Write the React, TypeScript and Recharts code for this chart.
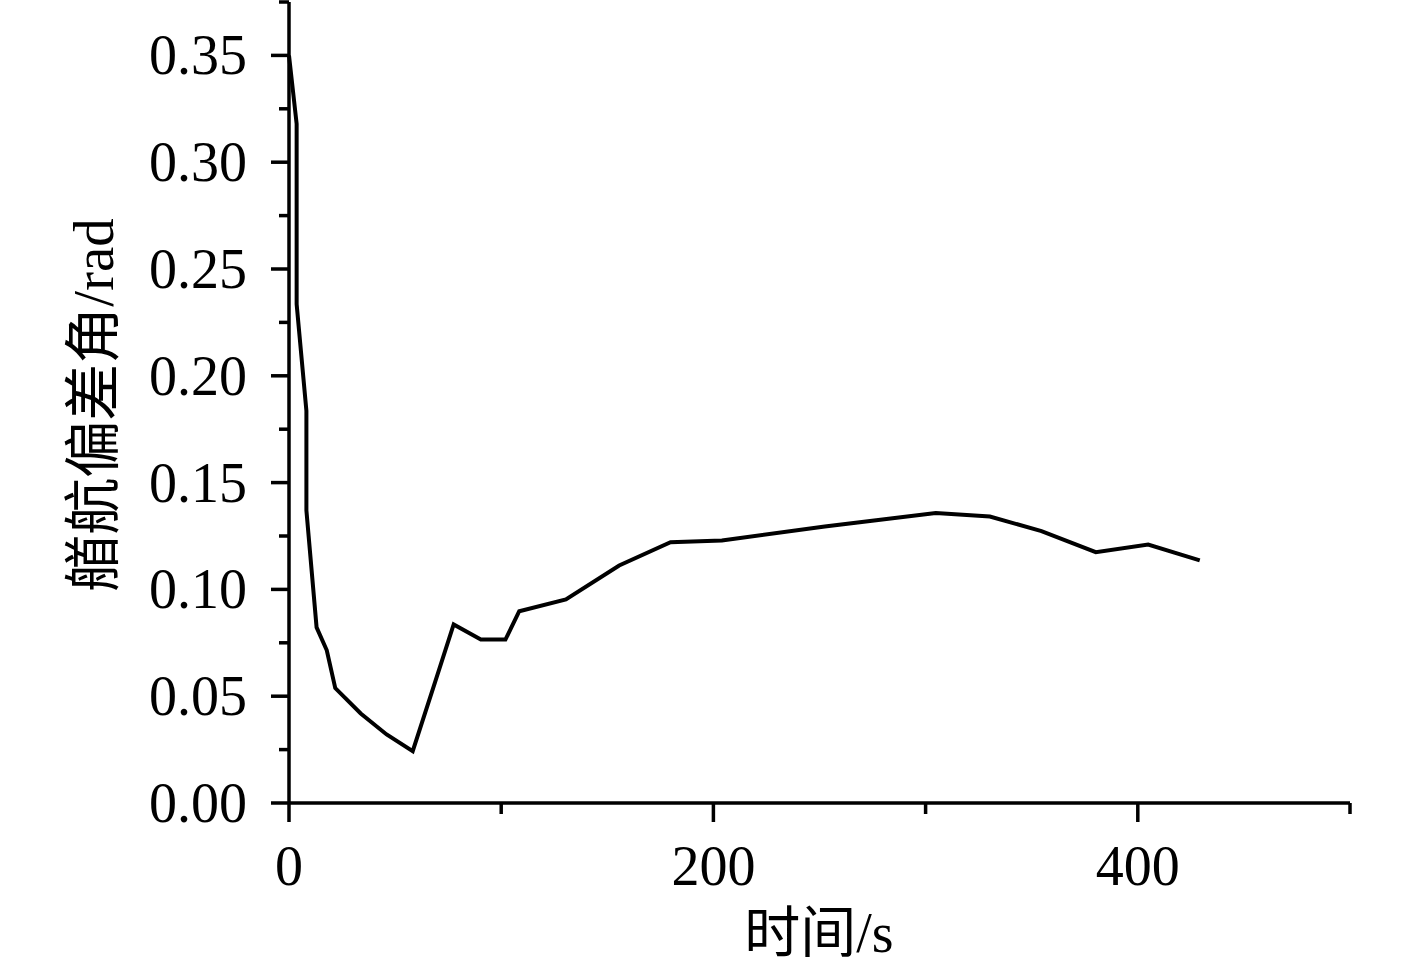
import React from 'react';
import { LineChart, Line, XAxis, YAxis } from 'recharts';

// time (s) and heading deviation angle (rad)
const timeS = [
  0, 3.6, 3.6, 8.2, 8.2, 13, 17.8, 21.8, 33.8, 46, 58.3, 68.8, 77.6, 90.4, 102,
  108.5, 130.5, 155.6, 179.8, 204, 252.5, 304.8, 330.3, 354.6, 380.2, 404.9, 429.2,
];
const angleRad = [
  0.35, 0.318, 0.2335, 0.1836, 0.137, 0.0822, 0.0715, 0.0538, 0.0419, 0.0321, 0.0243,
  0.0565, 0.0836, 0.0765, 0.0765, 0.0898, 0.0953, 0.1112, 0.1221, 0.1229, 0.1294,
  0.1358, 0.1341, 0.1273, 0.1174, 0.121, 0.1136,
];

const xTicks = [0, 100, 200, 300, 400, 500];
const xLabelled = [0, 200, 400];
const yTicks = [0, 0.025, 0.05, 0.075, 0.1, 0.125, 0.15, 0.175, 0.2, 0.225, 0.25, 0.275, 0.3, 0.325, 0.35, 0.375];
const yLabelled = [0, 0.05, 0.1, 0.15, 0.2, 0.25, 0.3, 0.35];

const data = timeS.map((t, i) => ({ t, v: angleRad[i] }));

const FONT = '"Liberation Serif", "Times New Roman", "Noto Sans CJK SC", serif';

const isMajor = (list: number[], v: number) => list.some((m) => Math.abs(m - v) < 1e-9);

const XTick = (props: any) => {
  const { x, y, payload } = props;
  const major = isMajor(xLabelled, payload.value);
  return (
    <g>
      <line x1={x} x2={x} y1={y} y2={y + (major ? 19 : 11)} stroke="#000" strokeWidth={3.5} />
      {major && (
        <text x={x} y={y + 82} textAnchor="middle" fontFamily={FONT} fontSize={56} fill="#000">
          {payload.value}
        </text>
      )}
    </g>
  );
};

const YTick = (props: any) => {
  const { x, y, payload } = props;
  const major = isMajor(yLabelled, payload.value);
  return (
    <g>
      <line x1={x - (major ? 18 : 10)} x2={x} y1={y} y2={y} stroke="#000" strokeWidth={3.5} />
      {major && (
        <text x={x - 42} y={y + 19} textAnchor="end" fontFamily={FONT} fontSize={56} fill="#000">
          {payload.value.toFixed(2)}
        </text>
      )}
    </g>
  );
};

const App = () => {
  return (
    <div style={{ position: 'absolute', left: 0, top: 0, background: '#fff' }}>
      <LineChart width={1417} height={972} data={data} margin={{ top: 2, right: 67, bottom: 0, left: 0 }}>
        <XAxis
          dataKey="t"
          type="number"
          domain={[0, 500]}
          ticks={xTicks}
          interval={0}
          height={169}
          tickSize={0}
          tickMargin={0}
          tickLine={false}
          axisLine={{ stroke: '#000', strokeWidth: 3.5 }}
          tick={<XTick />}
          label={{
            content: () => (
              <text x={819} y={933} textAnchor="middle" dominantBaseline="central" fontFamily={FONT} fontSize={56} fill="#000">
                时间/s
              </text>
            ),
          }}
        />
        <YAxis
          type="number"
          domain={[0, 0.375]}
          ticks={yTicks}
          interval={0}
          width={289}
          tickSize={0}
          tickMargin={0}
          tickLine={false}
          axisLine={{ stroke: '#000', strokeWidth: 3.5 }}
          tick={<YTick />}
          label={{
            content: () => (
              <text
                x={93}
                y={405}
                textAnchor="middle"
                dominantBaseline="central"
                transform="rotate(-90, 93, 405)"
                fontFamily={FONT}
                fontSize={57}
                fill="#000"
              >
                艏航偏差角/rad
              </text>
            ),
          }}
        />
        <Line
          type="linear"
          dataKey="v"
          stroke="#000"
          strokeWidth={4}
          dot={false}
          isAnimationActive={false}
        />
      </LineChart>
    </div>
  );
};

export default App;
